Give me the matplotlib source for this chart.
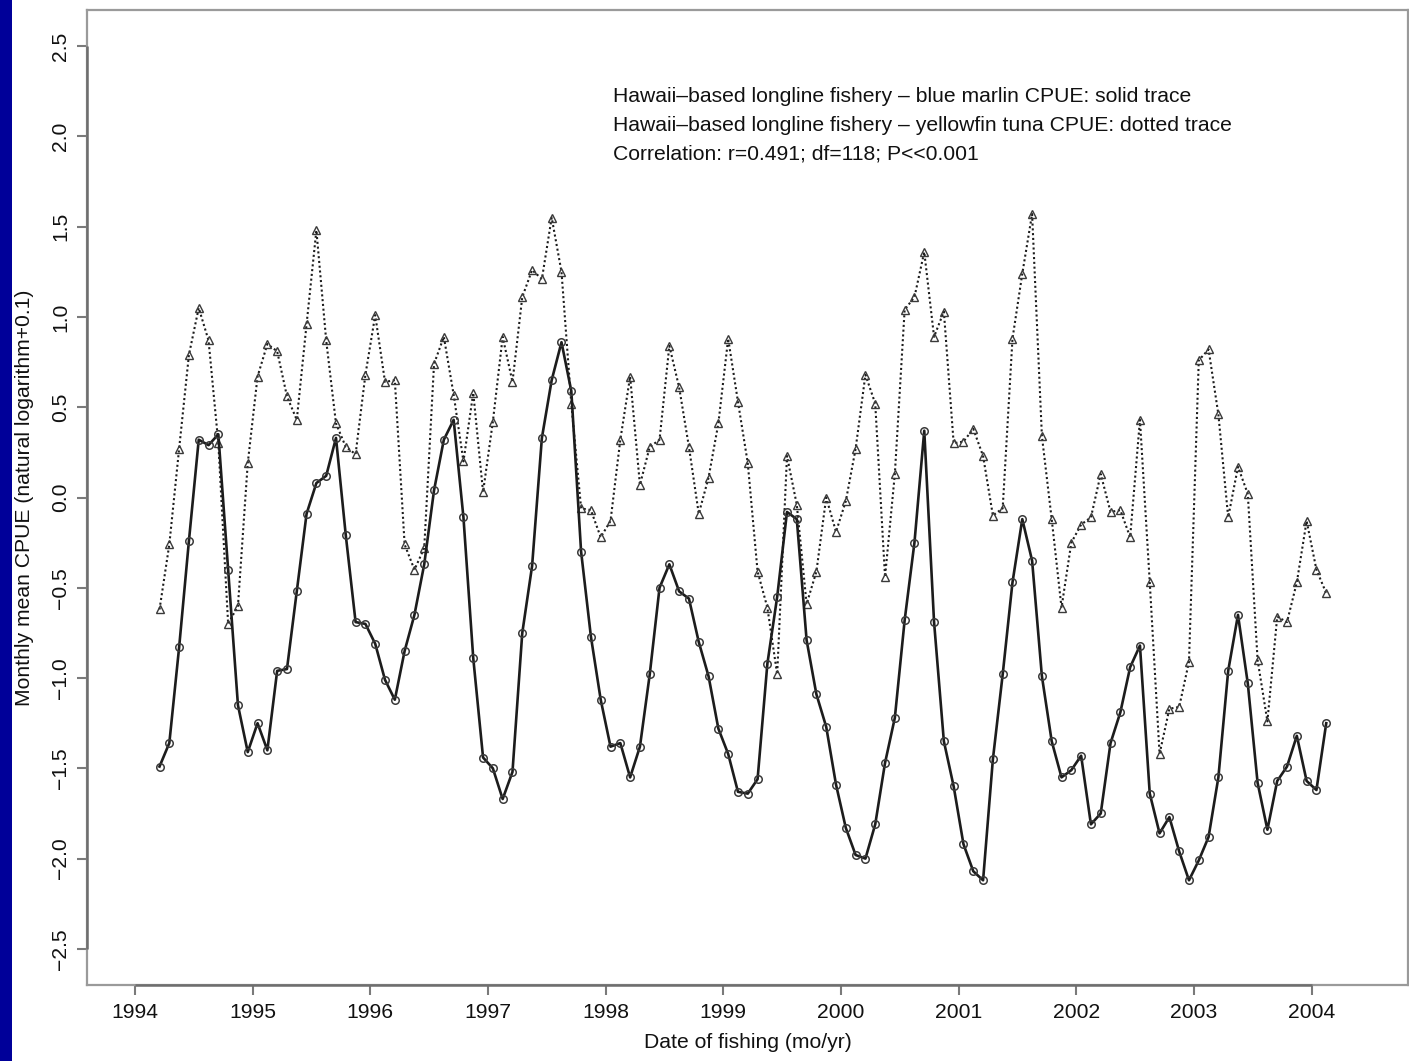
import matplotlib
matplotlib.use("Agg")
import matplotlib.pyplot as plt
import numpy as np
import pandas as pd
from matplotlib.patches import Rectangle

plt.rcParams['font.family'] = ['Liberation Sans', 'DejaVu Sans']

# Monthly dates: Mar 1994 .. Feb 2004 (120 months)
months = pd.date_range("1994-03-01", periods=120, freq="MS")
dates = months.year + (months.month - 0.5) / 12.0

blue_marlin = [
    -1.49, -1.36, -0.83, -0.24, 0.32, 0.29, 0.35, -0.40, -1.15, -1.41,
    -1.25, -1.40, -0.96, -0.95, -0.52, -0.09, 0.08, 0.12, 0.33, -0.21,
    -0.69, -0.70, -0.81, -1.01, -1.12, -0.85, -0.65, -0.37, 0.04, 0.32,
    0.43, -0.11, -0.89, -1.44, -1.50, -1.67, -1.52, -0.75, -0.38, 0.33,
    0.65, 0.86, 0.59, -0.30, -0.77, -1.12, -1.38, -1.36, -1.55, -1.38,
    -0.98, -0.50, -0.37, -0.52, -0.56, -0.80, -0.99, -1.28, -1.42, -1.63,
    -1.64, -1.56, -0.92, -0.55, -0.08, -0.12, -0.79, -1.09, -1.27, -1.59,
    -1.83, -1.98, -2.00, -1.81, -1.47, -1.22, -0.68, -0.25, 0.37, -0.69,
    -1.35, -1.60, -1.92, -2.07, -2.12, -1.45, -0.98, -0.47, -0.12, -0.35,
    -0.99, -1.35, -1.55, -1.51, -1.43, -1.81, -1.75, -1.36, -1.19, -0.94,
    -0.82, -1.64, -1.86, -1.77, -1.96, -2.12, -2.01, -1.88, -1.55, -0.96,
    -0.65, -1.03, -1.58, -1.84, -1.57, -1.49, -1.32, -1.57, -1.62, -1.25,
]

yellowfin = [
    -0.62, -0.26, 0.27, 0.79, 1.05, 0.87, 0.30, -0.70, -0.60, 0.19,
    0.67, 0.85, 0.81, 0.56, 0.43, 0.96, 1.48, 0.87, 0.41, 0.28,
    0.24, 0.68, 1.01, 0.64, 0.65, -0.26, -0.40, -0.28, 0.74, 0.89,
    0.57, 0.20, 0.58, 0.03, 0.42, 0.89, 0.64, 1.11, 1.26, 1.21,
    1.55, 1.25, 0.52, -0.06, -0.07, -0.22, -0.13, 0.32, 0.67, 0.07,
    0.28, 0.32, 0.84, 0.61, 0.28, -0.09, 0.11, 0.41, 0.88, 0.53,
    0.19, -0.41, -0.61, -0.98, 0.23, -0.04, -0.59, -0.41, 0.00, -0.19,
    -0.02, 0.27, 0.68, 0.52, -0.44, 0.13, 1.04, 1.11, 1.36, 0.89,
    1.03, 0.30, 0.31, 0.38, 0.23, -0.10, -0.06, 0.88, 1.24, 1.57,
    0.34, -0.12, -0.61, -0.25, -0.15, -0.11, 0.13, -0.08, -0.07, -0.22,
    0.43, -0.47, -1.42, -1.17, -1.16, -0.91, 0.76, 0.82, 0.46, -0.11,
    0.17, 0.02, -0.90, -1.24, -0.66, -0.69, -0.47, -0.13, -0.40, -0.53,
]

year_ticks = list(range(1994, 2005))
y_ticks = [-2.5, -2.0, -1.5, -1.0, -0.5, 0.0, 0.5, 1.0, 1.5, 2.0, 2.5]
y_tick_labels = ["\u22122.5", "\u22122.0", "\u22121.5", "\u22121.0", "\u22120.5",
                 "0.0", "0.5", "1.0", "1.5", "2.0", "2.5"]

annotation = [
    "Hawaii\u2013based longline fishery \u2013 blue marlin CPUE: solid trace",
    "Hawaii\u2013based longline fishery \u2013 yellowfin tuna CPUE: dotted trace",
    "Correlation: r=0.491; df=118; P<<0.001",
]

W, H = 1409, 1061
fig = plt.figure(figsize=(W / 100, H / 100), dpi=100)
fig.patch.set_facecolor("white")
fig.patches.append(Rectangle((0, 0), 12 / W, 1, transform=fig.transFigure,
                             facecolor="#000099", edgecolor="none", zorder=0))

ax = fig.add_axes([87 / W, (H - 985) / H, (1408 - 87) / W, 975 / H])
ax.set_xlim(1993.592, 2004.82)
ax.set_ylim(-2.7, 2.7)

fs = 15.2
ax.plot(dates, blue_marlin, color="#1c1c1c", lw=1.9, marker="o", ms=5.4,
        mfc="none", mec="#3a3a3a", mew=1.1, zorder=3)
ax.plot(dates, yellowfin, color="#1c1c1c", lw=1.5, linestyle=(0, (1.0, 1.3)),
        marker="^", ms=5.2, mfc="none", mec="#3a3a3a", mew=1.0, zorder=2)

for s in ax.spines.values():
    s.set_color("#9a9a9a")
    s.set_linewidth(1.6)

# R-style axis lines between first and last ticks
ax.plot([year_ticks[0], year_ticks[-1]], [-2.7, -2.7], color="#6e6e6e", lw=1.8,
        clip_on=False, zorder=4, solid_capstyle="butt")
ax.plot([1993.592, 1993.592], [y_ticks[0], y_ticks[-1]], color="#6e6e6e", lw=1.8,
        clip_on=False, zorder=4, solid_capstyle="butt")

ax.set_xticks(year_ticks)
ax.set_xticklabels([str(y) for y in year_ticks], fontsize=fs)
ax.set_yticks(y_ticks)
ax.set_yticklabels(y_tick_labels, fontsize=fs, rotation=90, va="center")
ax.tick_params(axis="both", direction="out", length=7, width=1.5, color="#7a7a7a",
               labelcolor="#111111")
ax.tick_params(axis="x", pad=6)
ax.tick_params(axis="y", pad=5)

ax.set_xlabel("Date of fishing (mo/yr)", fontsize=fs, color="#111111", labelpad=8)
ax.set_ylabel("Monthly mean CPUE (natural logarithm+0.1)", fontsize=fs,
              color="#111111")
ax.yaxis.set_label_coords(-0.040, 0.5)

for k, line in enumerate(annotation):
    fig.text(613 / W, 1 - (97 + 28.5 * k) / H, line, fontsize=fs, color="#111111",
             ha="left", va="center")

fig.savefig("out.png", dpi=100, facecolor="white")
